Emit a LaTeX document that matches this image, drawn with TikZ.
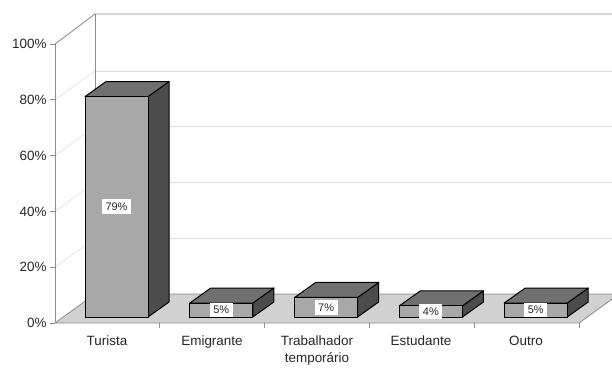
\documentclass[tikz,border=0pt]{standalone}
\usepackage{fontspec}
\setmainfont{Liberation Sans}
\begin{document}
\begin{tikzpicture}[x=1bp,y=-1bp,
  wall/.style={draw=black!45,line width=0.9bp},
  grid/.style={draw=black!13,line width=0.6bp},
  floorface/.style={fill=black!18,draw=black!45,line width=0.8bp},
  frontface/.style={fill=black!34,draw=black,line width=1bp,line join=round},
  topface/.style={fill=black!56,draw=black,line width=1bp,line join=round},
  sideface/.style={fill=black!70,draw=black,line width=1bp,line join=round},
  vallabel/.style={fill=white,inner xsep=3.5bp,inner ysep=3.5bp,font=\fontsize{11}{13}\selectfont,text=black!85},
  axislabel/.style={anchor=east,font=\fontsize{13.5}{16}\selectfont,text=black!85},
  catlabel/.style={font=\fontsize{13.5}{17}\selectfont,text=black!85,align=center,anchor=north,inner sep=0pt},
  tick/.style={draw=black!45,line width=0.8bp}]
\useasboundingbox (0,0) rectangle (612,370);
\clip (0,0) rectangle (612,370);
% left wall and back wall grid lines
\foreach \k in {1,...,4}{
  \draw[grid] (55,{323-\k*55.8}) -- (95,{294-\k*55.8});
  \draw[grid] (95,{294-\k*55.8}) -- (640,{294-\k*55.8});
}
% walls
\draw[wall] (55,44) -- (95,14) -- (640,14);
\draw[wall] (95,14) -- (95,294);
% floor
\draw[floorface] (55,323) -- (579,323) -- (619,294) -- (95,294) -- cycle;
% front axis
\draw[wall] (55,44) -- (55,323);
\foreach \k/\t in {0/0\%,1/20\%,2/40\%,3/60\%,4/80\%,5/100\%}{
  \draw[tick] (50,{323-\k*55.8}) -- (55,{323-\k*55.8});
  \node[axislabel] (ax\k) at (50,{323-\k*55.8}) {\t};
}
\foreach \i in {1,...,5}{
  \draw[tick] ({55+104.8*\i},323) -- ({55+104.8*\i},328);
}
% bars
\foreach \i/\v/\lab in {0/79/79\%,1/5/5\%,2/7/7\%,3/4/4\%,4/5/5\%}{
  \pgfmathsetmacro\L{55+104.8*\i+30}
  \pgfmathsetmacro\R{\L+63}
  \pgfmathsetmacro\B{317}
  \pgfmathsetmacro\T{317-\v*2.79}
  \draw[sideface] (\R,\T) -- ({\R+21},{\T-15}) -- ({\R+21},{\B-15}) -- (\R,\B) -- cycle;
  \draw[topface] (\L,\T) -- ({\L+21},{\T-15}) -- ({\R+21},{\T-15}) -- (\R,\T) -- cycle;
  \draw[frontface] (\L,\B) rectangle (\R,\T);
  \node[vallabel] (val\i) at ({(\L+\R)/2},{(\T+\B)/2}) {\lab};
}
% category labels
\node[catlabel] (c0) at (107,336) {Turista};
\node[catlabel] (c1) at (212,336) {Emigrante};
\node[catlabel] (c2) at (317,336) {Trabalhador\\temporário};
\node[catlabel] (c3) at (421,336) {Estudante};
\node[catlabel] (c4) at (526,336) {Outro};
\end{tikzpicture}
\end{document}
